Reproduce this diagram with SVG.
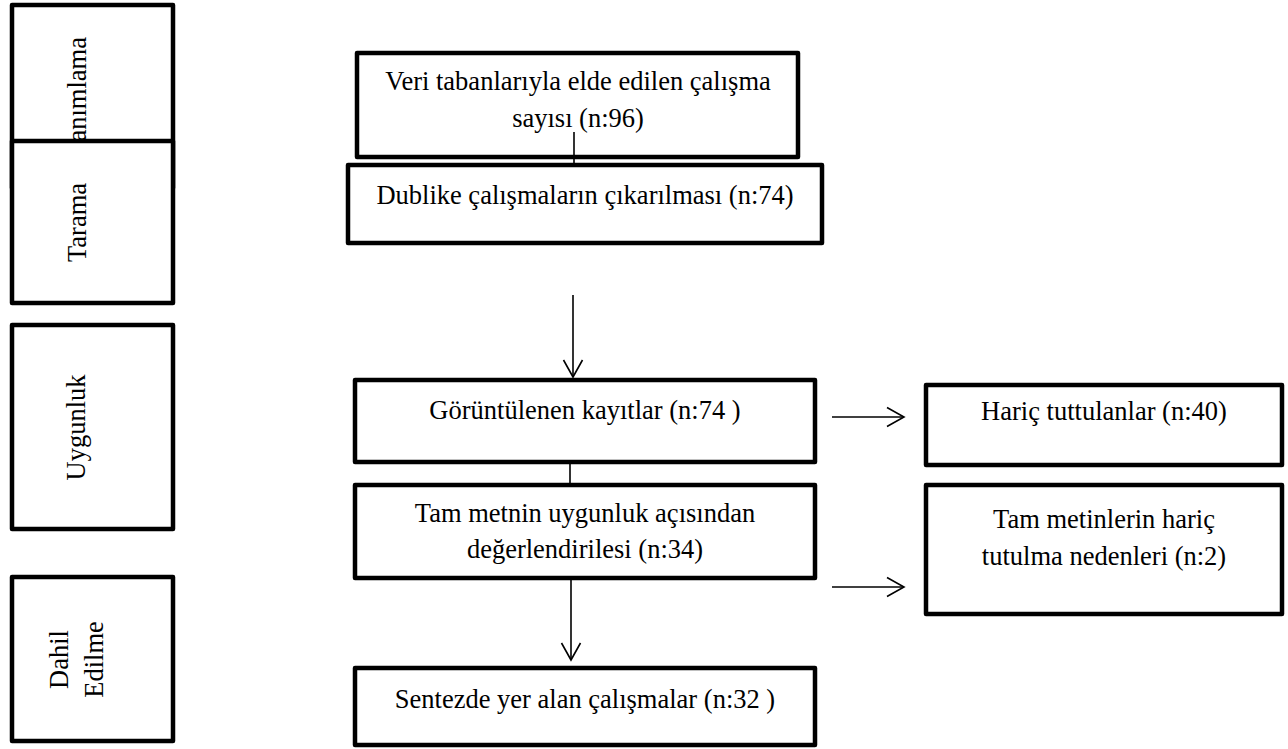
<svg xmlns="http://www.w3.org/2000/svg" width="1288" height="749" viewBox="0 0 1288 749">
  <style>
    .box { fill: #ffffff; stroke: #000000; stroke-width: 4.5; stroke-linejoin: round; }
    .t { font-family: 'Liberation Serif', 'Tinos', 'DejaVu Serif', 'Noto Serif', serif; font-size: 26.5px; fill: #000000; text-anchor: middle; }
    .conn { stroke: #000000; stroke-width: 1.6; fill: none; }
    .head { stroke: #000000; stroke-width: 1.6; fill: none; stroke-linejoin: miter; }
  </style>
  <rect x="0" y="0" width="1288" height="749" fill="#ffffff"/>

  <g id="phase-tanimlama">
    <rect class="box" x="12" y="5" width="161" height="183"/>
    <text class="t" transform="translate(86,96.5) rotate(-90)">Tanımlama</text>
  </g>
  <g id="phase-tarama">
    <rect class="box" x="12" y="141" width="161" height="162"/>
    <text class="t" transform="translate(86,222.5) rotate(-90)">Tarama</text>
  </g>
  <g id="phase-uygunluk">
    <rect class="box" x="12" y="325" width="161" height="204"/>
    <text class="t" transform="translate(85,427.5) rotate(-90)">Uygunluk</text>
  </g>
  <g id="phase-dahil">
    <rect class="box" x="12" y="577" width="161" height="164"/>
    <text class="t" transform="translate(68,659.5) rotate(-90)">Dahil</text>
    <text class="t" transform="translate(103,659.5) rotate(-90)">Edilme</text>
  </g>

  <g id="node-veri">
    <rect class="box" x="357" y="53" width="441" height="104"/>
    <text class="t" x="578" y="90">Veri tabanlarıyla elde edilen çalışma</text>
    <text class="t" x="578" y="127">sayısı (n:96)</text>
  </g>
  <g id="node-dublike">
    <rect class="box" x="348" y="165" width="474" height="78"/>
    <text class="t" x="585" y="204">Dublike çalışmaların çıkarılması (n:74)</text>
  </g>
  <g id="node-goruntulenen">
    <rect class="box" x="355" y="380" width="460" height="82"/>
    <text class="t" x="585" y="419">Görüntülenen kayıtlar (n:74 )</text>
  </g>
  <g id="node-tammetin">
    <rect class="box" x="355" y="485" width="460" height="93"/>
    <text class="t" x="585" y="522">Tam metnin uygunluk açısından</text>
    <text class="t" x="585" y="558">değerlendirilesi (n:34)</text>
  </g>
  <g id="node-sentezde">
    <rect class="box" x="355" y="668" width="460" height="77"/>
    <text class="t" x="585" y="708">Sentezde yer alan çalışmalar (n:32 )</text>
  </g>
  <g id="node-haric">
    <rect class="box" x="926" y="385" width="356" height="80"/>
    <text class="t" x="1104" y="420">Hariç tuttulanlar (n:40)</text>
  </g>
  <g id="node-haric-nedenleri">
    <rect class="box" x="926" y="485" width="356" height="129"/>
    <text class="t" x="1104" y="528">Tam metinlerin hariç</text>
    <text class="t" x="1104" y="565">tutulma nedenleri (n:2)</text>
  </g>

  <g id="connectors">
    <line class="conn" x1="574" y1="132" x2="574" y2="165"/>
    <line class="conn" x1="573" y1="295" x2="573" y2="377"/>
    <polyline class="head" points="563.5,360 573,377 582.5,360"/>
    <line class="conn" x1="570" y1="462" x2="570" y2="485"/>
    <line class="conn" x1="571" y1="578" x2="571" y2="660"/>
    <polyline class="head" points="561.5,643 571,660 580.5,643"/>
    <line class="conn" x1="832" y1="417" x2="904" y2="417"/>
    <polyline class="head" points="887,407.5 904,417 887,426.5"/>
    <line class="conn" x1="832" y1="587" x2="904" y2="587"/>
    <polyline class="head" points="887,577.5 904,587 887,596.5"/>
  </g>
</svg>
